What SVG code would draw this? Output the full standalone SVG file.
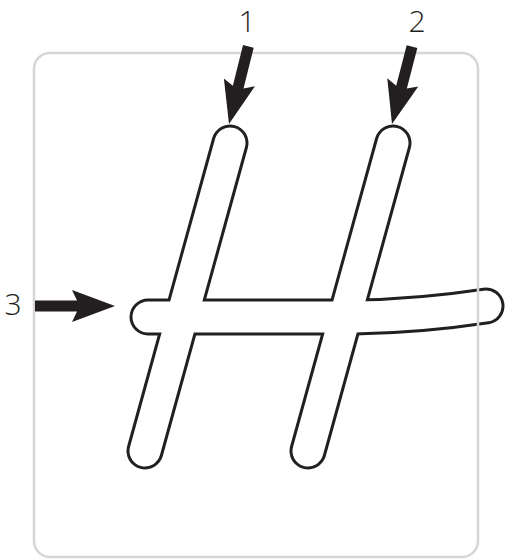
<svg xmlns="http://www.w3.org/2000/svg" width="506" height="560" viewBox="0 0 506 560">
  <style>
    .outer { fill: none; stroke: #231f20; stroke-width: 37; stroke-linecap: round; stroke-linejoin: round; }
    .inner { fill: none; stroke: #ffffff; stroke-width: 31; stroke-linecap: round; stroke-linejoin: round; }
    .frame { fill: none; stroke: #d6d6d6; stroke-width: 2.5; }
    .arrow { fill: #231f20; }
    .label { font-family: "Open Sans", "Liberation Sans", sans-serif; font-weight: 300; font-size: 30px; fill: #231f20; text-anchor: middle; }
  </style>
  <defs>
    <path id="arrowShape" d="M0,0 L-43,-16 L-38,-5.5 L-80,-5.5 L-80,5.5 L-38,5.5 L-43,16 Z"/>
  </defs>
  <rect width="506" height="560" fill="#ffffff"/>
  <g id="letter-H">
    <g id="stroke-outlines">
      <path class="outer" d="M230,143 L145,451"/>
      <path class="outer" d="M393,143 L308,451"/>
      <path class="outer" d="M148,317 L355,317 Q420,316 486,306"/>
    </g>
    <g id="stroke-fills">
      <path class="inner" d="M230,143 L145,451"/>
      <path class="inner" d="M393,143 L308,451"/>
      <path class="inner" d="M148,317 L355,317 Q420,316 486,306"/>
    </g>
  </g>
  <g id="frame">
    <rect class="frame" x="34" y="53" width="444" height="504" rx="16" ry="16"/>
  </g>
  <g id="connectors">
    <use href="#arrowShape" class="arrow" transform="translate(229,124) rotate(104)"/>
    <use href="#arrowShape" class="arrow" transform="translate(392,124) rotate(104.5)"/>
    <use href="#arrowShape" class="arrow" transform="translate(115,306)"/>
  </g>
  <g id="labels">
    <text class="label" x="247" y="32">1</text>
    <text class="label" x="417" y="32">2</text>
    <text class="label" x="13" y="315">3</text>
  </g>
</svg>
